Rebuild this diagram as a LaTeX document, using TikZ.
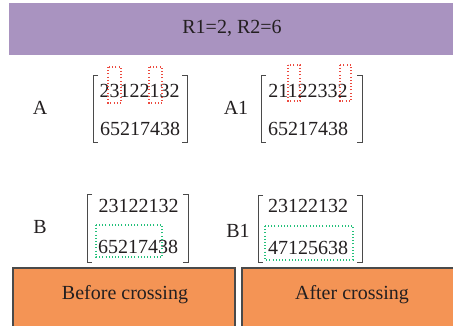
\documentclass[tikz,border=0pt]{standalone}
\usepackage{fontspec}
\setmainfont{Liberation Serif}
\begin{document}
\begin{tikzpicture}[x=1pt,y=-1pt,
  every node/.style={inner sep=0pt, outer sep=0pt, text=txt, font=\fontsize{20}{24}\selectfont},
  banner/.style={fill=bannerfill, draw=none},
  stage/.style={fill=stagefill, draw=stageline, line width=1.2pt},
  mat/.style={draw=none, minimum height=#1},
  brk/.style={draw=brkline, line width=0.8pt},
  dotsel/.style={line width=1.1pt, dash pattern=on 1pt off 2.2pt},
  redsel/.style={dotsel, draw=selred},
  greensel/.style={dotsel, draw=selgreen},
  rowtxt/.style={anchor=base},
  lbl/.style={anchor=base}]
\definecolor{txt}{HTML}{231F20}
\definecolor{bannerfill}{HTML}{A993C0}
\definecolor{stagefill}{HTML}{F49455}
\definecolor{stageline}{HTML}{4A4A4A}
\definecolor{brkline}{HTML}{4A4A4A}
\definecolor{selred}{HTML}{EC4A3F}
\definecolor{selgreen}{HTML}{22C07A}
\useasboundingbox (0,0) rectangle (453,325);
\clip (0,0) rectangle (453,325);

% header band
\node[banner, minimum width=450, minimum height=52, anchor=north west] (head) at (9,3) {};
\node (headtxt) at (232,28) {R1=2, R2=6};

% matrix frames (invisible boxes carrying the bracket extents)
\node[mat=67, minimum width=94] (mA) at (140,108.5) {};
\node[mat=67, minimum width=101] (mA1) at (311.5,108.5) {};
\node[mat=68, minimum width=101] (mB) at (137.5,228) {};
\node[mat=67, minimum width=104] (mB1) at (310,228.5) {};
\foreach \m in {mA,mA1,mB,mB1}{
  \draw[brk] ([xshift=5pt]\m.north west) -- (\m.north west) -- (\m.south west) -- ([xshift=5pt]\m.south west);
  \draw[brk] ([xshift=-5pt]\m.north east) -- (\m.north east) -- (\m.south east) -- ([xshift=-5pt]\m.south east);
}

% row labels
\node[lbl] (la) at (40,114) {A};
\node[lbl] (la1) at (236,114) {A1};
\node[lbl] (lb) at (40,233) {B};
\node[lbl] (lb1) at (238,237) {B1};

% matrix rows
\node[rowtxt] (a1) at (139.5,97) {23122132};
\node[rowtxt] (a2) at (140,135) {65217438};
\node[rowtxt] (c1) at (308,97) {21122332};
\node[rowtxt] (c2) at (308,135) {65217438};
\node[rowtxt] (b1) at (138.5,212) {23122132};
\node[rowtxt] (b2) at (138,253) {65217438};
\node[rowtxt] (d1) at (308,212) {23122132};
\node[rowtxt] (d2) at (308,254) {47125638};

% selected genes in the first row
\draw[redsel] (108,67) rectangle (121,103);
\draw[redsel] (149,67) rectangle (162,103);
\draw[redsel] (288,65) rectangle (300,101);
\draw[redsel] (340,65) rectangle (351,101);

% exchanged second rows
\draw[greensel] (96,225) rectangle (162,257);
\draw[greensel] (265,226) rectangle (353,260);

% stage captions
\node[stage, minimum width=222, minimum height=70, anchor=north west] (before) at (13,268) {};
\node[stage, minimum width=220, minimum height=70, anchor=north west] (after) at (242,268) {};
\node (beforetxt) at (125,295) {Before crossing};
\node (aftertxt) at (352,295) {After crossing};
\end{tikzpicture}
\end{document}
